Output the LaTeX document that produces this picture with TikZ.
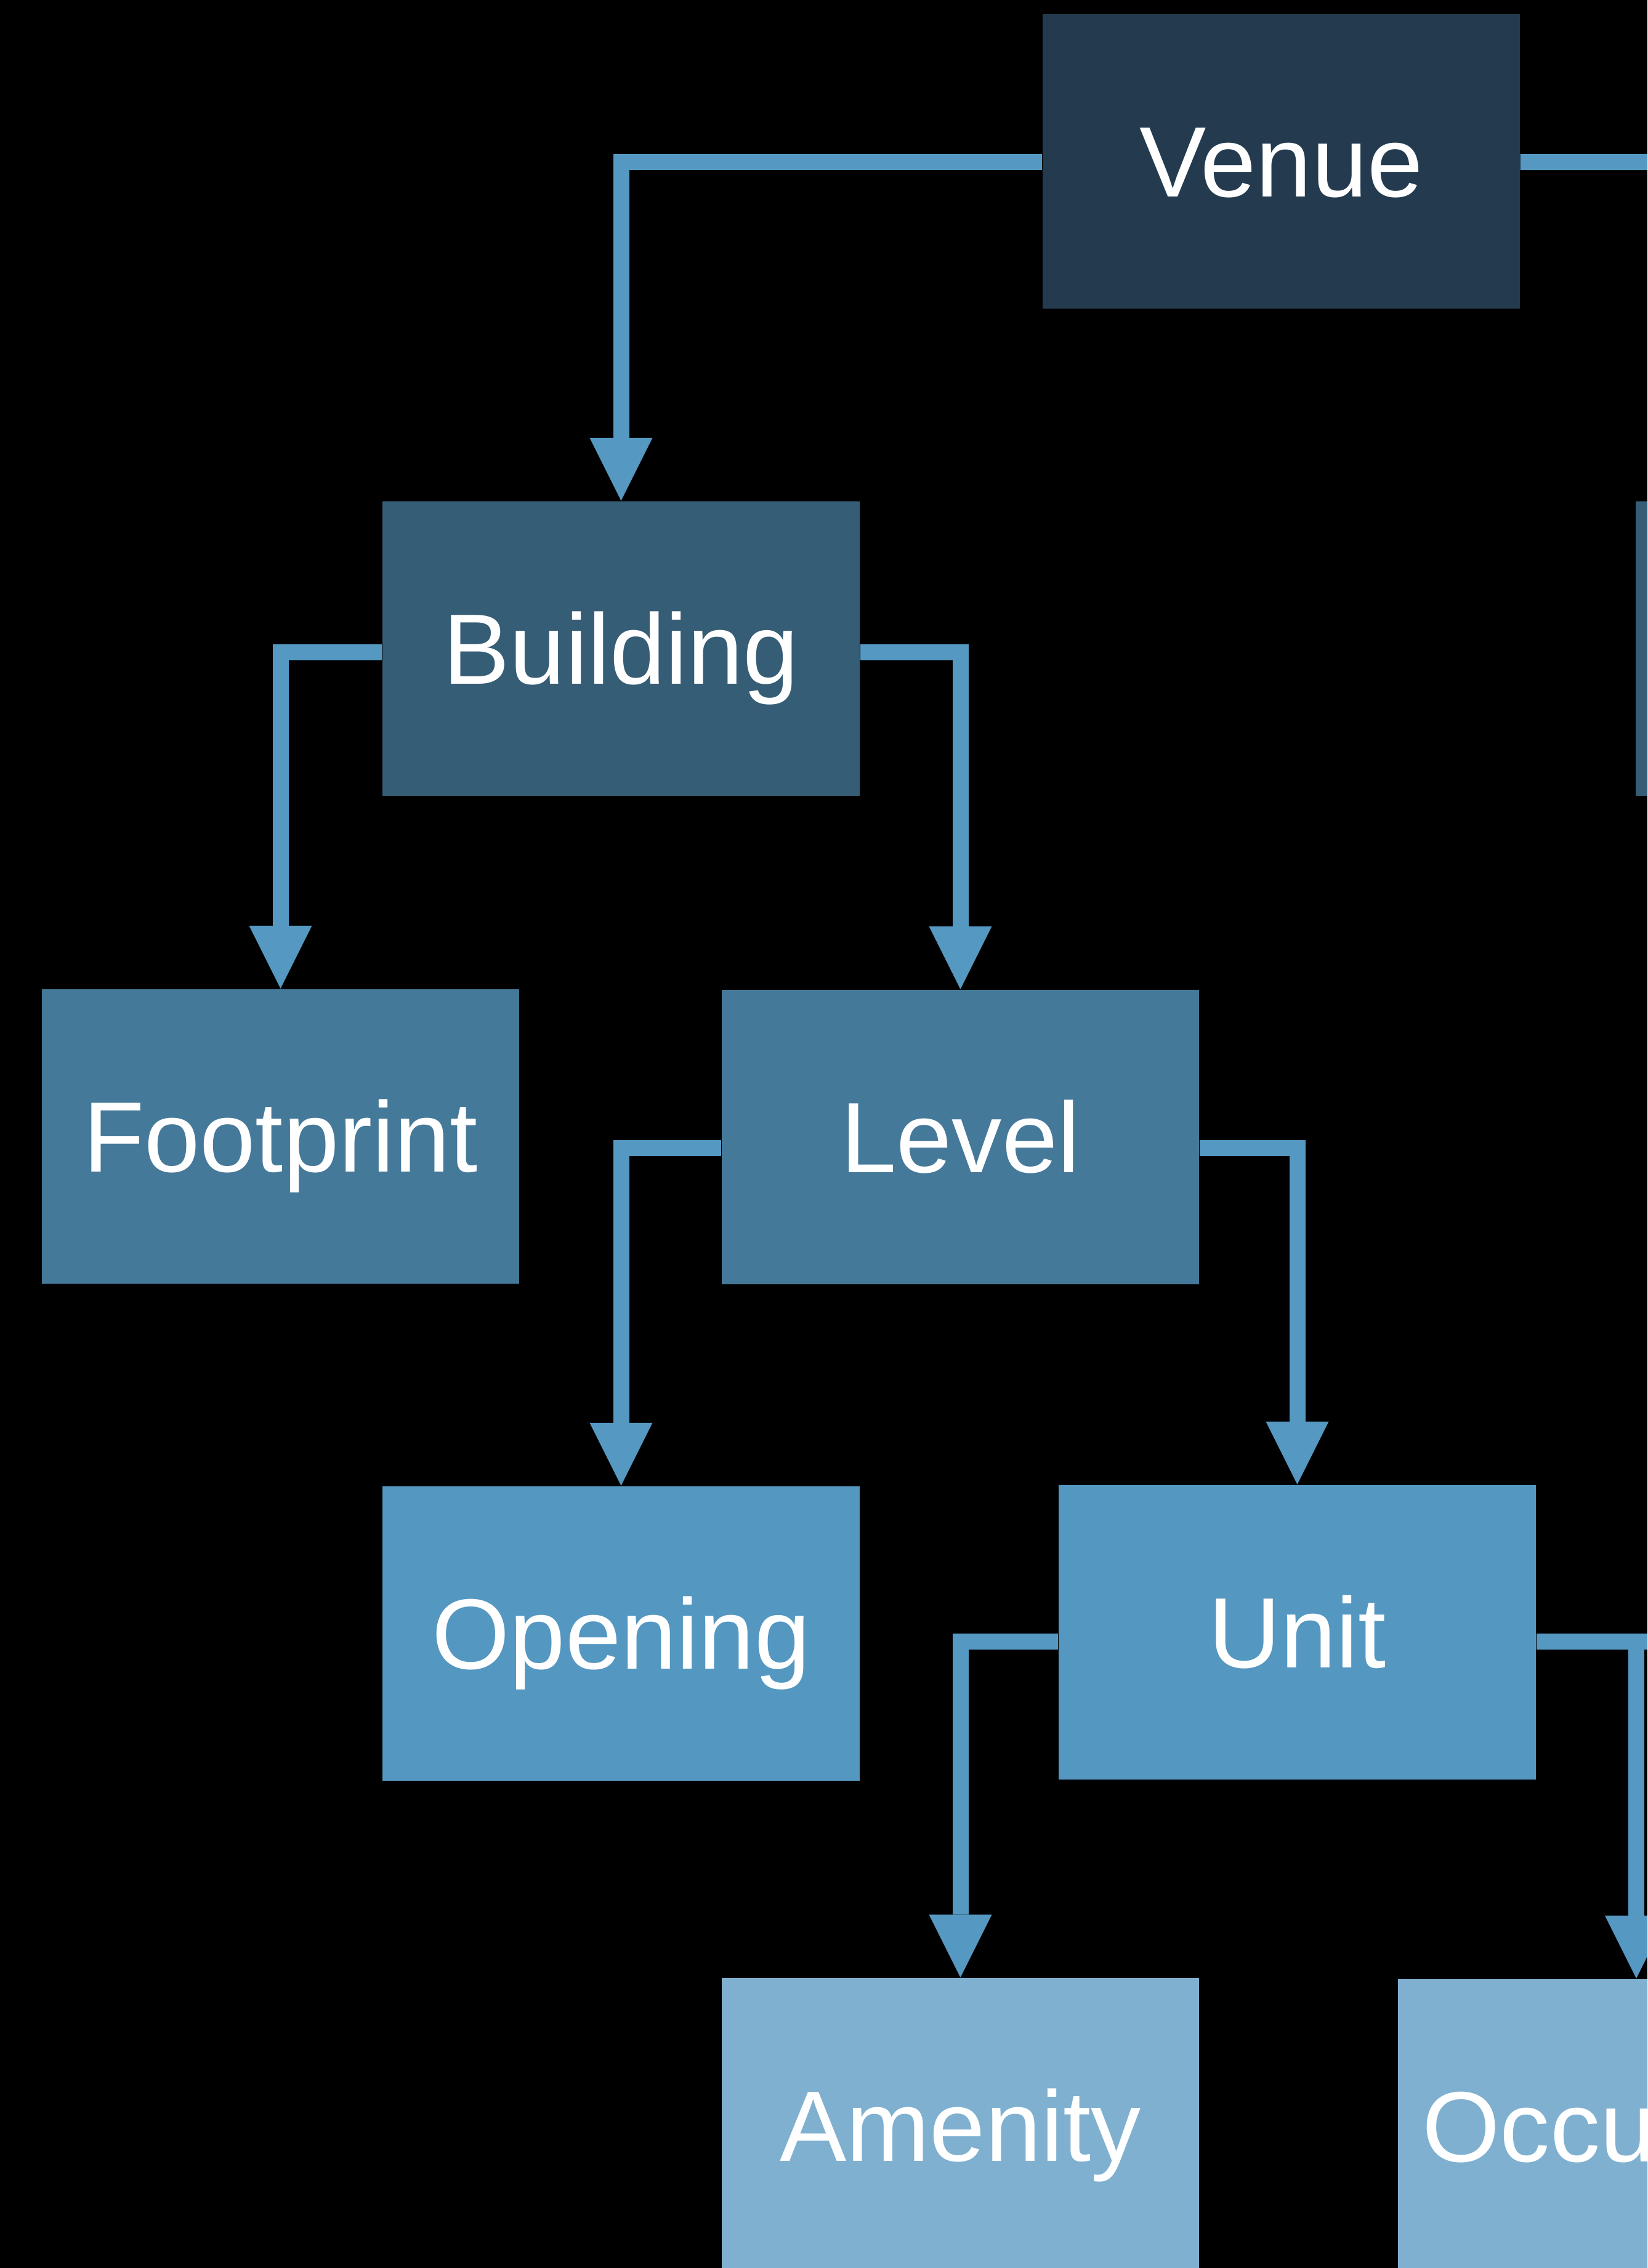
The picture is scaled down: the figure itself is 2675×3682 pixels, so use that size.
\documentclass[tikz,border=0pt]{standalone}
\usepackage{fontspec}
\setmainfont{Liberation Sans}
\usetikzlibrary{arrows.meta,calc}
\definecolor{cvenue}{HTML}{243B4F}
\definecolor{cbuilding}{HTML}{365D76}
\definecolor{clevel}{HTML}{457999}
\definecolor{cunit}{HTML}{5497C1}
\definecolor{camenity}{HTML}{7FB0D0}
\definecolor{cline}{HTML}{5598C2}
\begin{document}
\begin{tikzpicture}[x=0.1mm,y=-0.1mm,
  box/.style={rectangle, minimum width=77.5mm, minimum height=47.8mm, inner sep=0pt,
    text=white, font=\fontsize{46.2pt}{52pt}\selectfont, text height=33.1pt, text depth=0pt},
  wire/.style={draw=cline, line width=2.6mm},
  conn/.style={wire, -{Triangle[width=10.2mm,length=10.2mm,line width=0pt]}}]
\useasboundingbox (0,0) rectangle (2675,3682);
\clip (0,0) rectangle (2675,3682);
\fill[black] (0,0) rectangle (2675,3682);
% nodes
\node[box, fill=cvenue] (venue) at (2080.5,261.5) {Venue};
\node[box, fill=cbuilding] (building) at (1008.5,1052.5) {Building};
\node[box, fill=cbuilding] (rightnode) at (3043.5,1052.5) {};
\node[box, fill=clevel] (footprint) at (455.5,1844.5) {Footprint};
\node[box, fill=clevel] (level) at (1559.5,1845.5) {Level};
\node[box, fill=cunit] (opening) at (1008.5,2651.5) {Opening};
\node[box, fill=cunit] (unit) at (2106.5,2649.5) {Unit};
\node[box, fill=camenity] (amenity) at (1559.5,3450) {Amenity};
\node[box, fill=camenity] (occupant) at (2657,3451.5) {Occupant};
\coordinate (venueright) at (2800,263);
\coordinate (unitright) at (2800,2664.5);
% connectors
\draw[conn] ($(venue.west)+(0,1.5)$) -| (building.north);
\draw[wire] ($(venue.east)+(0,1.5)$) -- (venueright);
\draw[conn] ($(building.west)+(0,6)$) -| (footprint.north);
\draw[conn] ($(building.east)+(0,6)$) -| (level.north);
\draw[conn] ($(level.west)+(0,18)$) -| (opening.north);
\draw[conn] ($(level.east)+(0,18)$) -| (unit.north);
\draw[conn] ($(unit.west)+(0,15)$) -| (amenity.north);
\draw[wire] ($(unit.east)+(0,15)$) -- (unitright);
\draw[conn] ($(unit.east)+(0,15)$) -| (occupant.north);
\end{tikzpicture}
\end{document}
